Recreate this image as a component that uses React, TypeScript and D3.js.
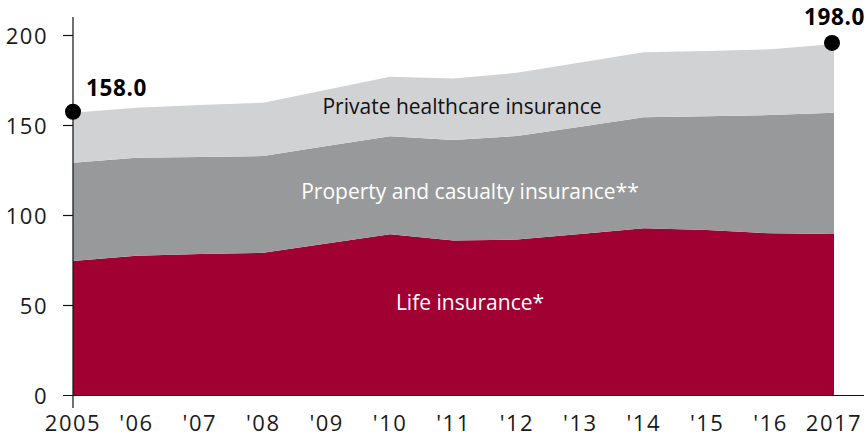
import React, { useEffect, useRef } from "react";
import * as d3 from "d3";

const years = [2005, 2006, 2007, 2008, 2009, 2010, 2011, 2012, 2013, 2014, 2015, 2016, 2017];
const yearLabels = ["2005", "'06", "'07", "'08", "'09", "'10", "'11", "'12", "'13", "'14", "'15", "'16", "2017"];
const lifeInsurance = [74.7, 77.7, 78.6, 79.3, 84.4, 89.6, 86.1, 86.6, 89.7, 92.9, 91.9, 90.1, 89.7];
const propertyCasualty = [54.6, 54.4, 53.9, 53.7, 54.2, 54.4, 55.8, 57.6, 59.6, 61.7, 63.2, 65.7, 67.4];
const privateHealth = [27.8, 27.8, 28.9, 29.7, 31.3, 33.1, 34.2, 35.1, 35.7, 36.1, 36.3, 36.5, 38.2];
const yTicks = [0, 50, 100, 150, 200];
const seriesKeys = ["life", "pc", "health"];
const seriesNames = ["Life insurance*", "Property and casualty insurance**", "Private healthcare insurance"];
const endLabels = ["158.0", "198.0"];

const W = 866;
const H = 437;

export default function App() {
  const ref = useRef<SVGSVGElement>(null);

  useEffect(() => {
    const svg = d3.select(ref.current);
    svg.selectAll("*").remove();

    const x = d3.scaleLinear().domain([2005, 2017]).range([73, 834]);
    const y = d3.scaleLinear().domain([0, 200]).range([395.5, 35.5]);

    const rows = years.map((yr, i) => ({
      year: yr,
      life: lifeInsurance[i],
      pc: propertyCasualty[i],
      health: privateHealth[i],
    }));
    const stack = d3.stack<any>().keys(seriesKeys);
    const layers = stack(rows);
    const colors = ["#A10033", "#98999B", "#D1D2D4"];

    const area = d3
      .area<any>()
      .x((d) => x(d.data.year))
      .y0((d) => y(d[0]))
      .y1((d) => y(d[1]))
      .curve(d3.curveLinear);

    svg
      .append("g")
      .selectAll("path")
      .data(layers)
      .join("path")
      .attr("d", area as any)
      .attr("fill", (_d, i) => colors[i]);

    const font = "'Open Sans', 'DejaVu Sans', sans-serif";

    // axes
    const ax = svg.append("g").attr("stroke", "#111").attr("stroke-width", 1.2);
    ax.append("line").attr("x1", 73).attr("x2", 73).attr("y1", 17).attr("y2", 408);
    ax.append("line").attr("x1", 63).attr("x2", 864).attr("y1", y(0)).attr("y2", y(0));
    ax.selectAll("line.tick")
      .data(yTicks.filter((t) => t > 0))
      .join("line")
      .attr("class", "tick")
      .attr("x1", 63)
      .attr("x2", 73)
      .attr("y1", (d) => y(d))
      .attr("y2", (d) => y(d));

    svg
      .append("g")
      .selectAll("text")
      .data(yTicks)
      .join("text")
      .attr("x", 48)
      .attr("y", (d) => y(d) + 8)
      .attr("text-anchor", "end")
      .attr("font-family", font)
      .attr("font-size", 22)
      .attr("letter-spacing", 1.5)
      .attr("fill", "#1a1a1a")
      .text((d) => String(d));

    svg
      .append("g")
      .selectAll("text")
      .data(years)
      .join("text")
      .attr("x", (d) => x(d))
      .attr("y", 431)
      .attr("text-anchor", "middle")
      .attr("font-family", font)
      .attr("font-size", 22)
      .attr("letter-spacing", 1.5)
      .attr("fill", "#1a1a1a")
      .text((_d, i) => yearLabels[i]);

    // series labels
    const labelPos = [
      { x: 470, y: 310, fill: "#fff" },
      { x: 470, y: 199, fill: "#fff" },
      { x: 462, y: 114, fill: "#111" },
    ];
    svg
      .append("g")
      .selectAll("text")
      .data(seriesNames)
      .join("text")
      .attr("x", (_d, i) => labelPos[i].x)
      .attr("y", (_d, i) => labelPos[i].y)
      .attr("text-anchor", "middle")
      .attr("font-family", font)
      .attr("font-size", 21)
      .attr("fill", (_d, i) => labelPos[i].fill)
      .text((d) => d);

    // end dots
    const totals = years.map((_, i) => lifeInsurance[i] + propertyCasualty[i] + privateHealth[i]);
    const ends = [0, years.length - 1];
    svg
      .append("g")
      .selectAll("circle")
      .data(ends)
      .join("circle")
      .attr("cx", (i) => x(years[i]) - (i === 0 ? 0 : 2))
      .attr("cy", (i) => y(totals[i]) - 1)
      .attr("r", 8)
      .attr("fill", "#000");

    svg
      .append("text")
      .attr("x", 86)
      .attr("y", 96)
      .attr("font-family", font)
      .attr("font-weight", 700)
      .attr("font-size", 22.5)
      .attr("letter-spacing", 0.6)
      .attr("fill", "#000")
      .text(endLabels[0]);
    svg
      .append("text")
      .attr("x", 865)
      .attr("y", 25)
      .attr("text-anchor", "end")
      .attr("font-family", font)
      .attr("font-weight", 700)
      .attr("font-size", 22.5)
      .attr("letter-spacing", 0.6)
      .attr("fill", "#000")
      .text(endLabels[1]);
  }, []);

  return (
    <svg
      ref={ref}
      width={W}
      height={H}
      style={{ position: "absolute", left: 0, top: 0, background: "#fff" }}
    />
  );
}
